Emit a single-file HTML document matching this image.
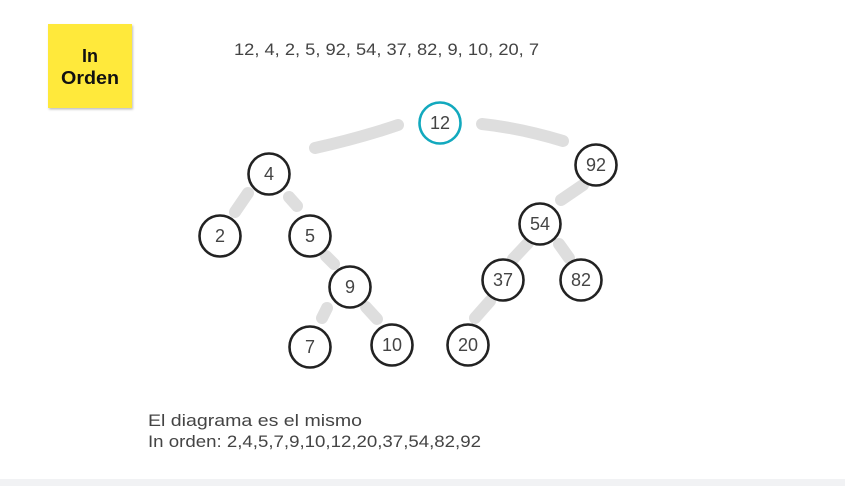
<!DOCTYPE html>
<html><head><meta charset="utf-8"><style>
html,body{margin:0;padding:0;background:#fff;}
body{width:845px;height:486px;position:relative;overflow:hidden;font-family:"Liberation Sans",sans-serif;}
.bar{position:absolute;left:0;top:479px;width:845px;height:7px;background:#f1f2f4;}
</style></head><body>
<svg width="845" height="486" style="position:absolute;left:0;top:0">
<defs><filter id="sh" x="-10%" y="-10%" width="130%" height="130%"><feDropShadow dx="1" dy="1.5" stdDeviation="1" flood-color="#000" flood-opacity="0.25"/></filter></defs>
<rect x="48" y="24" width="84" height="84" fill="#ffe93a" filter="url(#sh)"/>
<text x="90" y="62" text-anchor="middle" font-family="Liberation Sans, sans-serif" font-weight="bold" font-size="18" fill="#111">In</text>
<text x="90" y="84" text-anchor="middle" font-family="Liberation Sans, sans-serif" font-weight="bold" font-size="18" fill="#111" textLength="58" lengthAdjust="spacingAndGlyphs">Orden</text>
<text x="234" y="55" font-size="17" fill="#444" textLength="305" lengthAdjust="spacingAndGlyphs">12, 4, 2, 5, 92, 54, 37, 82, 9, 10, 20, 7</text>
<g stroke="#dedede" stroke-width="12" stroke-linecap="round" fill="none">
<path d="M315 148 Q360 138 398 125"/>
<path d="M482 124 Q520 128 563 141"/>
<path d="M583 185 L561 200"/>
<path d="M248 193 L235 212"/>
<path d="M289 197 L297 206"/>
<path d="M326 256 L334 264"/>
<path d="M327 308 L322 318"/>
<path d="M366 307 L377 319"/>
<path d="M528 243 L513 259"/>
<path d="M559 244 L569 258"/>
<path d="M490 301 L475 318"/>
</g>
<g fill="#fff" stroke="#222" stroke-width="2.6">
<circle cx="440" cy="123" r="20.5" stroke="#12a9be"/>
<circle cx="269" cy="174" r="20.5"/>
<circle cx="220" cy="236" r="20.5"/>
<circle cx="310" cy="236" r="20.5"/>
<circle cx="350" cy="287" r="20.5"/>
<circle cx="310" cy="347" r="20.5"/>
<circle cx="392" cy="345" r="20.5"/>
<circle cx="468" cy="345" r="20.5"/>
<circle cx="503" cy="280" r="20.5"/>
<circle cx="540" cy="224" r="20.5"/>
<circle cx="581" cy="280" r="20.5"/>
<circle cx="596" cy="165" r="20.5"/>
</g>
<g font-size="18" fill="#444" text-anchor="middle">
<text x="440" y="129">12</text>
<text x="269" y="180">4</text>
<text x="220" y="242">2</text>
<text x="310" y="242">5</text>
<text x="350" y="293">9</text>
<text x="310" y="353">7</text>
<text x="392" y="351">10</text>
<text x="468" y="351">20</text>
<text x="503" y="286">37</text>
<text x="540" y="230">54</text>
<text x="581" y="286">82</text>
<text x="596" y="171">92</text>
</g>
<text x="148" y="426" font-size="17" fill="#444" textLength="214" lengthAdjust="spacingAndGlyphs">El diagrama es el mismo</text>
<text x="148" y="447" font-size="17" fill="#444" textLength="333" lengthAdjust="spacingAndGlyphs">In orden: 2,4,5,7,9,10,12,20,37,54,82,92</text>
</svg>
<div class="bar"></div>
</body></html>
